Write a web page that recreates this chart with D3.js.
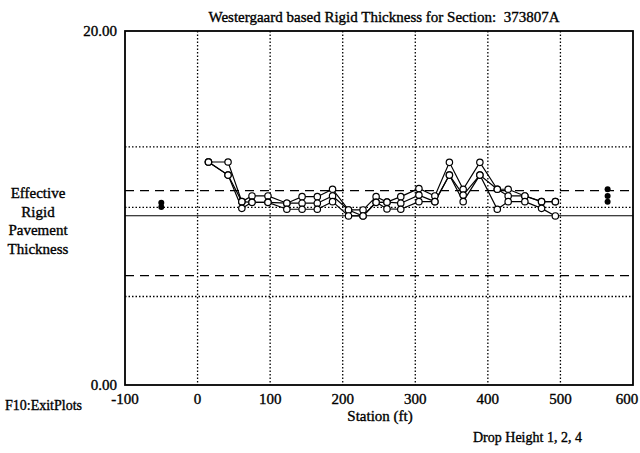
<!DOCTYPE html>
<html lang="en">
  <head>
    <meta charset="UTF-8" />
    <title>Westergaard based Rigid Thickness</title>
    <script src="https://d3js.org/d3.v7.min.js"></script>
    <style>
      body {
        margin: 0;
        padding: 0;
        background-color: #fff;
      }
      svg text {
        font-family: "Liberation Serif", "Times New Roman", serif;
        fill: #000;
        stroke: #000;
        stroke-width: 0.35px;
        white-space: pre;
      }
    </style>
  </head>
  <body>
    <div id="chart"></div>

    <script>
      const width = 640;
      const height = 453;

      // data
      const stations = [15, 42, 61, 75, 97, 123, 144, 165, 186, 208, 228, 246, 261, 280, 305, 327, 347, 366, 389, 413, 428, 451, 474, 493];
      const dropHeight1 = [12.6, 12.6, 10.36, 10.68, 10.68, 10.27, 10.64, 10.64, 11.06, 9.89, 9.89, 10.64, 10.33, 10.64, 11.1, 10.68, 12.58, 11.06, 12.58, 11.06, 11.06, 10.68, 10.36, 10.36];
      const dropHeight2 = [12.6, 11.86, 10.36, 10.32, 10.32, 10.27, 10.27, 10.27, 10.68, 9.89, 9.55, 10.32, 10.33, 10.27, 10.73, 10.36, 11.86, 10.73, 11.86, 11.06, 10.68, 10.68, 10.36, 10.36];
      const dropHeight4 = [12.6, 11.86, 9.98, 10.32, 10.32, 9.93, 9.93, 9.93, 10.36, 9.55, 9.55, 10.32, 9.95, 9.93, 10.36, 10.36, 11.86, 10.36, 11.86, 9.93, 10.36, 10.36, 9.98, 9.55];

      const leftMarkStation = -50;
      const leftMarkValues = [10.3, 10.05];
      const rightMarkStation = 565;
      const rightMarkValues = [11.06, 10.68, 10.36];

      const dottedLevels = [13.45, 10.04, 5.0];
      const dashedLevels = [10.98, 6.18];
      const solidLevels = [9.56];

      const xTicks = [-100, 0, 100, 200, 300, 400, 500, 600];
      const xGrid = [0, 100, 200, 300, 400, 500];
      const yTicks = [0, 20];
      const yLabelLines = ["Effective", "Rigid", "Pavement", "Thickness"];

      const margin = { left: 125, right: 7, top: 31, bottom: 68 };
      const x = d3.scaleLinear().domain([-100, 600]).range([margin.left, width - margin.right]);
      const y = d3.scaleLinear().domain([0, 20]).range([height - margin.bottom, margin.top]);

      const svg = d3.select("#chart").append("svg").attr("width", width).attr("height", height);

      // vertical grid
      svg
        .selectAll(".vgrid")
        .data(xGrid)
        .enter()
        .append("line")
        .attr("x1", (d) => x(d))
        .attr("x2", (d) => x(d))
        .attr("y1", y(20))
        .attr("y2", y(0))
        .attr("stroke", "#000")
        .attr("stroke-width", 1.3)
        .attr("stroke-dasharray", "1.5,2");

      // horizontal reference lines
      const hline = (levels, dash, w) =>
        svg
          .selectAll(null)
          .data(levels)
          .enter()
          .append("line")
          .attr("x1", x(-100))
          .attr("x2", x(600))
          .attr("y1", (d) => y(d))
          .attr("y2", (d) => y(d))
          .attr("stroke", "#000")
          .attr("stroke-width", w)
          .attr("stroke-dasharray", dash);

      hline(dottedLevels, "1.5,2", 1.3);
      hline(dashedLevels, "9,6", 1.4);
      hline(solidLevels, null, 1.1);

      // frame
      svg
        .append("rect")
        .attr("x", x(-100))
        .attr("y", y(20))
        .attr("width", x(600) - x(-100))
        .attr("height", y(0) - y(20))
        .attr("fill", "none")
        .attr("stroke", "#000")
        .attr("stroke-width", 1.8);

      // series
      const series = [dropHeight1, dropHeight2, dropHeight4];
      const line = d3
        .line()
        .x((d, i) => x(stations[i]))
        .y((d) => y(d));

      series.forEach((vals) => {
        svg.append("path").datum(vals).attr("d", line).attr("fill", "none").attr("stroke", "#000").attr("stroke-width", 1.2);
      });
      series.forEach((vals) => {
        svg
          .selectAll(null)
          .data(vals)
          .enter()
          .append("circle")
          .attr("cx", (d, i) => x(stations[i]))
          .attr("cy", (d) => y(d))
          .attr("r", 3.2)
          .attr("fill", "#fff")
          .attr("stroke", "#000")
          .attr("stroke-width", 1.2);
      });

      // filled side markers
      const sideMarks = [
        ...leftMarkValues.map((v) => [leftMarkStation, v]),
        ...rightMarkValues.map((v) => [rightMarkStation, v]),
      ];
      svg
        .selectAll(null)
        .data(sideMarks)
        .enter()
        .append("circle")
        .attr("cx", (d) => x(d[0]))
        .attr("cy", (d) => y(d[1]))
        .attr("r", 3)
        .attr("fill", "#000");

      // axis labels
      svg
        .selectAll(".xtick")
        .data(xTicks)
        .enter()
        .append("text")
        .attr("x", (d) => (d === 600 ? x(d) - 6 : x(d)))
        .attr("y", y(0) + 19)
        .attr("text-anchor", "middle")
        .attr("font-size", 15)
        .text((d) => d);

      svg
        .selectAll(".ytick")
        .data(yTicks)
        .enter()
        .append("text")
        .attr("x", x(-100) - 8)
        .attr("y", (d) => y(d) + 5)
        .attr("text-anchor", "end")
        .attr("font-size", 15)
        .text((d) => d.toFixed(2));

      svg
        .append("text")
        .attr("x", 384)
        .attr("y", 22)
        .attr("text-anchor", "middle")
        .attr("font-size", 15)
        .text("Westergaard based Rigid Thickness for Section:  373807A");

      svg
        .append("text")
        .attr("x", (x(-100) + x(600)) / 2 + 1)
        .attr("y", y(0) + 36)
        .attr("text-anchor", "middle")
        .attr("font-size", 15)
        .text("Station (ft)");

      svg
        .selectAll(".ylab")
        .data(yLabelLines)
        .enter()
        .append("text")
        .attr("x", 38)
        .attr("y", (d, i) => 198 + i * 18.5)
        .attr("text-anchor", "middle")
        .attr("font-size", 15)
        .text((d) => d);

      svg.append("text").attr("x", 5).attr("y", 410).attr("font-size", 14).text("F10:ExitPlots");

      svg.append("text").attr("x", 473).attr("y", 442).attr("font-size", 14).text("Drop Height 1, 2, 4");
    </script>
  </body>
</html>
